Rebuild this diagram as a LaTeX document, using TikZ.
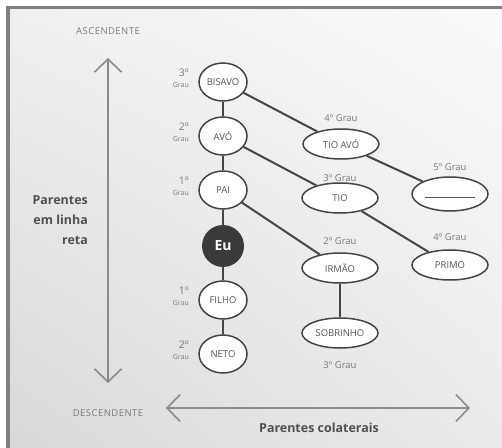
\documentclass[tikz,border=0pt]{standalone}
\usepackage{fontspec}
\setmainfont{Open Sans}
\usetikzlibrary{arrows.meta,shapes.geometric,shadings}
\definecolor{edgec}{HTML}{454545}
\definecolor{txtc}{HTML}{555555}
\definecolor{gtxt}{HTML}{7A7A7A}
\definecolor{arrc}{HTML}{8C8C8C}
\definecolor{framec}{HTML}{808080}
\definecolor{eudark}{HTML}{3A3A3A}
\definecolor{boldtxt}{HTML}{505050}
\begin{document}
\begin{tikzpicture}[x=1bp,y=-1bp,
  kin/.style={ellipse, draw=edgec, line width=1.5bp, fill=white, minimum width=48bp, minimum height=38bp, inner sep=0pt, font=\fontsize{9.5}{10}\selectfont, text=txtc},
  colk/.style={kin, minimum width=76bp, minimum height=30bp},
  conn/.style={draw=edgec, line width=2bp},
  graul/.style={align=right, anchor=east, text=gtxt, inner sep=0pt},
  grauc/.style={text=gtxt, font=\fontsize{9.5}{10}\selectfont, inner sep=0pt},
  axisarrow/.style={draw=arrc, line width=1.3bp, {Straight Barb[length=13bp,width=27bp,line width=1.6bp]}-{Straight Barb[length=13bp,width=27bp,line width=1.6bp]}},
  bigl/.style={font=\fontsize{12.5}{20}\selectfont\bfseries, text=boldtxt, inner sep=0pt},
  endl/.style={font=\fontsize{9.5}{10}\selectfont\addfontfeature{LetterSpace=5}, text=gtxt, inner sep=0pt}
]
\useasboundingbox (0,0) rectangle (502,448);
\fill[white] (0,0) rectangle (502,448);
\shade[upper left=black!6, upper right=black!2, lower left=black!15, lower right=black!8] (9,9) rectangle (502,448);
\fill[framec] (6,6) rectangle (502,9.5);
\fill[framec] (6,6) rectangle (9.5,448);

% axes
\coordinate (vtop) at (108,58);
\coordinate (vbot) at (108,383);
\coordinate (hleft) at (166,408);
\coordinate (hright) at (470,408);
\draw[axisarrow] (vtop) -- (vbot);
\draw[axisarrow] (hleft) -- (hright);

\node[endl] (asc) at (108,31) {ASCENDENTE};
\node[endl] (desc) at (108,413) {DESCENDENTE};
\node[bigl, align=right, anchor=east] (linha) at (88,220) {Parentes\\em linha\\reta};
\node[bigl] (colat) at (319,428) {Parentes colaterais};

% main line
\node[kin] (bisavo) at (223,82) {BISAVO};
\node[kin] (avo) at (223,136) {AVÓ};
\node[kin] (pai) at (223,190) {PAI};
\node[circle, fill=eudark, minimum size=42bp, inner sep=0pt, text=white, font=\fontsize{14}{15}\selectfont\bfseries] (eu) at (223,246) {Eu};
\node[kin] (filho) at (223,300) {FILHO};
\node[kin] (neto) at (223,354) {NETO};

% collaterals
\node[colk] (tioavo) at (341,144) {TIO AVÓ};
\node[colk, minimum height=34bp] (blank) at (450,194) {};
\node[colk] (tio) at (340,198) {TIO};
\node[colk] (primo) at (450,265) {PRIMO};
\node[colk] (irmao) at (340,268) {IRMÃO};
\node[colk] (sobrinho) at (340,333) {SOBRINHO};

\draw[line width=1bp, draw=txtc] ([shift={(-25,4)}]blank.center) -- ([shift={(25,4)}]blank.center);

% connectors
\draw[conn] (bisavo) -- (avo);
\draw[conn] (avo) -- (pai);
\draw[conn] (pai) -- (eu);
\draw[conn] (eu) -- (filho);
\draw[conn] (filho) -- (neto);
\draw[conn] (bisavo) -- (tioavo);
\draw[conn] (tioavo) -- (blank);
\draw[conn] (avo) -- (tio);
\draw[conn] (tio) -- (primo);
\draw[conn] (pai) -- (irmao);
\draw[conn] (irmao) -- (sobrinho);

% grade labels left
\node[graul] (g1) at (189,78) {{\fontsize{10.5}{10}\selectfont 3º}\\[-1bp]{\fontsize{7}{7}\selectfont Grau}};
\node[graul] (g2) at (189,132) {{\fontsize{10.5}{10}\selectfont 2º}\\[-1bp]{\fontsize{7}{7}\selectfont Grau}};
\node[graul] (g3) at (189,186) {{\fontsize{10.5}{10}\selectfont 1º}\\[-1bp]{\fontsize{7}{7}\selectfont Grau}};
\node[graul] (g4) at (189,296) {{\fontsize{10.5}{10}\selectfont 1º}\\[-1bp]{\fontsize{7}{7}\selectfont Grau}};
\node[graul] (g5) at (189,350) {{\fontsize{10.5}{10}\selectfont 2º}\\[-1bp]{\fontsize{7}{7}\selectfont Grau}};

% grade labels collaterals
\node[grauc] (c1) at (341,118) {4º Grau};
\node[grauc] (c2) at (450,167) {5º Grau};
\node[grauc] (c3) at (340,178) {3º Grau};
\node[grauc] (c4) at (340,241) {2º Grau};
\node[grauc] (c5) at (450,237) {4º Grau};
\node[grauc] (c6) at (340,365) {3º Grau};
\end{tikzpicture}
\end{document}
